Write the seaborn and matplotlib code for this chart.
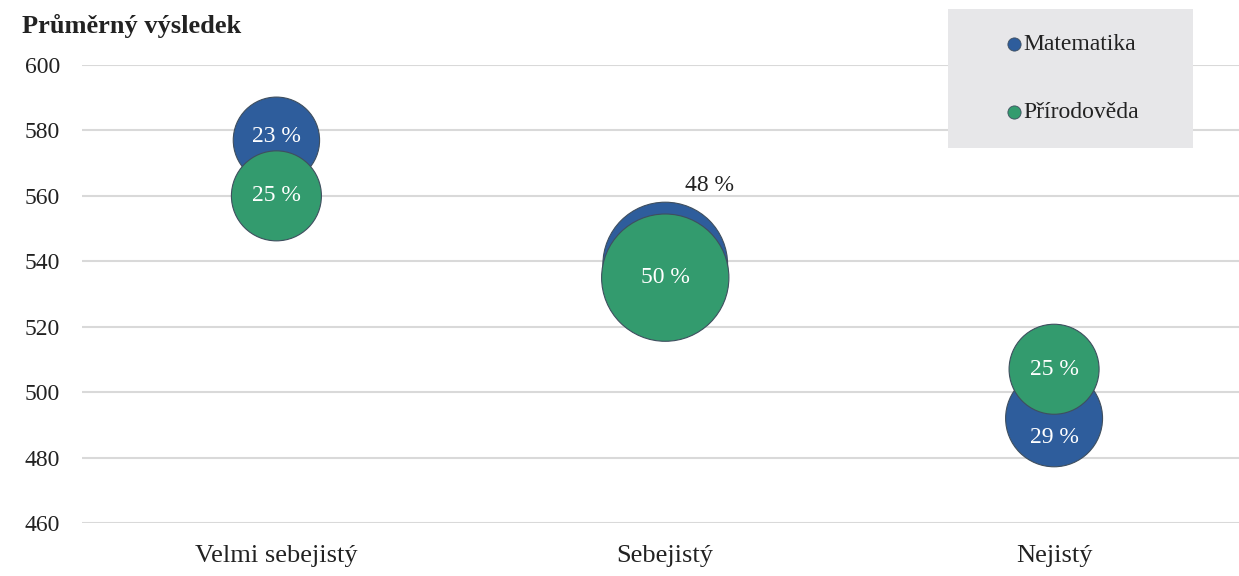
import matplotlib
matplotlib.use("Agg")
import matplotlib.pyplot as plt
from matplotlib.patches import Rectangle
from matplotlib.lines import Line2D
import seaborn as sns
import pandas as pd

categories = ["Velmi sebejistý", "Sebejistý", "Nejistý"]
math_scores = [577, 539, 492]
math_pct = [23, 48, 29]
sci_scores = [560, 535, 507]
sci_pct = [25, 50, 25]
series_names = ["Matematika", "Přírodověda"]
yticks = [460, 480, 500, 520, 540, 560, 580, 600]

BLUE = "#2E5D9C"
GREEN = "#339B6E"
SERIF = "Liberation Serif"

sns.set_theme(style="white")
plt.rcParams["font.family"] = [SERIF, "DejaVu Serif"]

fig = plt.figure(figsize=(12.39, 5.76), dpi=100)
ax = fig.add_axes([82 / 1239, 1 - 523 / 576, 1 - 82 / 1239, (523 - 65) / 576])

K = 168  # marker area per percent point (points^2)
df_m = pd.DataFrame({"cat": categories, "score": math_scores, "pct": math_pct})
df_s = pd.DataFrame({"cat": categories, "score": sci_scores, "pct": sci_pct})

sns.scatterplot(data=df_m, x="cat", y="score", s=[K * p for p in math_pct],
                color=BLUE, edgecolor="#3F4F5F", linewidth=0.8, ax=ax, zorder=3, legend=False)
sns.scatterplot(data=df_s, x="cat", y="score", s=[K * p for p in sci_pct],
                color=GREEN, edgecolor="#3F4F5F", linewidth=0.8, ax=ax, zorder=4, legend=False)

# labels
for i, (y, p) in enumerate(zip(math_scores, math_pct)):
    if i == 1:
        ax.annotate(f"{p} %", (i, y), xytext=(14, 57), textcoords="offset points",
                    ha="left", va="center", fontsize=17, color="#222222", zorder=6)
    else:
        ax.text(i, y + (1 if i == 0 else -6), f"{p} %", ha="center", va="center",
                fontsize=17, color="white", zorder=6)
for i, (y, p) in enumerate(zip(sci_scores, sci_pct)):
    ax.text(i, y, f"{p} %", ha="center", va="center", fontsize=17, color="white", zorder=7)

ax.set_ylim(460, 600)
ax.set_yticks(yticks)
ax.set_xlim(-0.5, 2 + (1239 - 1054) / 389)
ax.yaxis.grid(True, color="#D9D9D9", linewidth=1.5)
ax.set_axisbelow(True)
for s in ax.spines.values():
    s.set_visible(False)
ax.tick_params(axis="y", length=0, pad=16, labelsize=17, labelcolor="#222222")
ax.tick_params(axis="x", length=0, pad=16, labelsize=19, labelcolor="#222222")
ax.set_xlabel("")
ax.set_ylabel("")

fig.text(22 / 1239, 1 - 26 / 576, "Průměrný výsledek", fontsize=19, fontweight="bold",
         ha="left", va="center", color="#222222")

# legend box
fig.add_artist(Rectangle((948 / 1239, 1 - 148 / 576), (1193 - 948) / 1239, (148 - 9) / 576,
                         transform=fig.transFigure, facecolor="#E7E7E9", edgecolor="none", zorder=10))
for (name, col, ypx) in zip(series_names, [BLUE, GREEN], [44, 112]):
    fig.add_artist(Line2D([1014 / 1239], [1 - ypx / 576], marker="o", markersize=9.5,
                          markerfacecolor=col, markeredgecolor="#3F4F5F", markeredgewidth=0.6,
                          linestyle="none", transform=fig.transFigure, zorder=11))
    fig.text(1023 / 1239, 1 - (ypx + 1) / 576, name, fontsize=17, ha="left", va="center",
             color="#222222", zorder=12)

fig.savefig("out.png", dpi=100)
